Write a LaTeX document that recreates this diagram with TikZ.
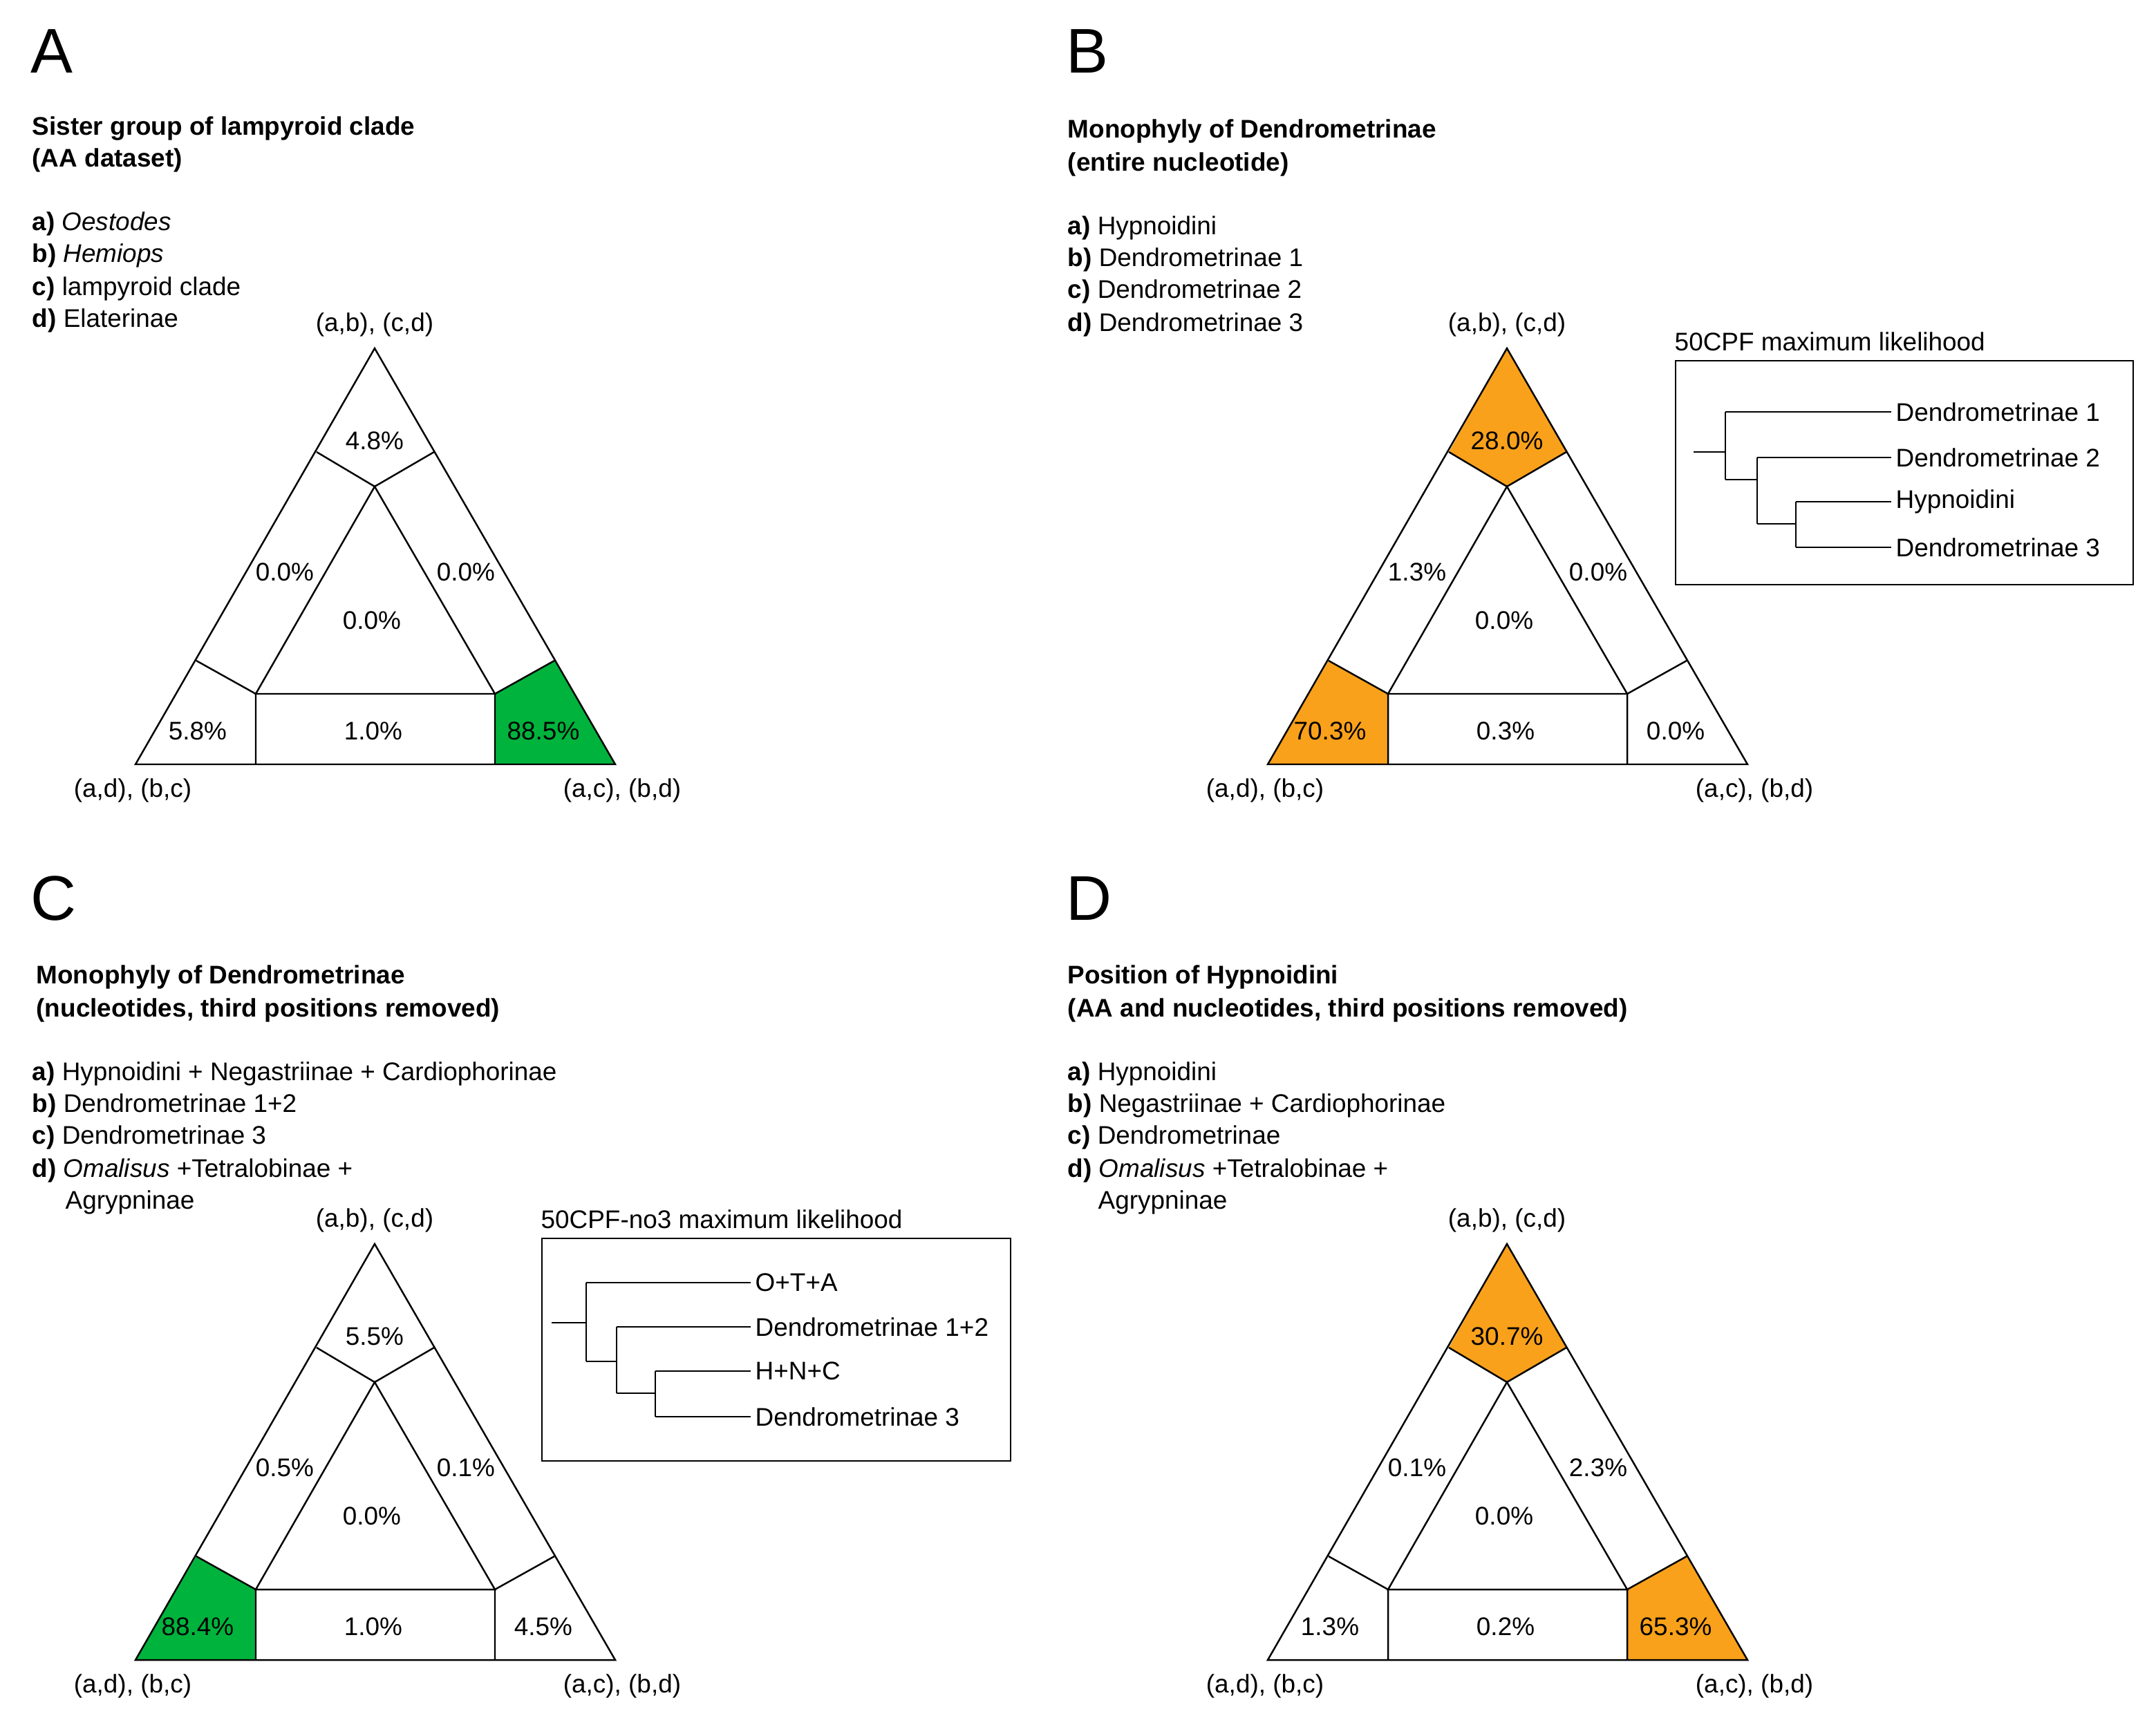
\documentclass[tikz,border=0pt]{standalone}
\usepackage{fontspec}
\setmainfont{Liberation Sans}
\definecolor{grn}{HTML}{00B33C}
\definecolor{org}{HTML}{F9A11B}
\newcommand\tritop[1]{\fill[#1] (271,252)--(229,327)--(271,352)--(314,327)--cycle;}
\newcommand\trileft[1]{\fill[#1] (98,553)--(142,478)--(185,502)--(185,553)--cycle;}
\newcommand\triright[1]{\fill[#1] (445,553)--(401,478)--(358,502)--(358,553)--cycle;}
\newcommand\tripanel[7]{%
  \draw[tri] (271,252)--(98,553)--(445,553)--cycle;
  \draw[tri] (271,352)--(185,502)--(358,502)--cycle;
  \draw[tri] (271,352)--(229,327) (271,352)--(314,327)
    (185,502)--(142,478) (185,502)--(185,553)
    (358,502)--(401,478) (358,502)--(358,553);
  \node[lbl] at (271,319) {#1};
  \node[lbl] at (206,414) {#2};
  \node[lbl] at (337,414) {#3};
  \node[lbl] at (269,449) {#4};
  \node[lbl] at (143,529) {#5};
  \node[lbl] at (270,529) {#6};
  \node[lbl] at (393,529) {#7};
  \node[lbl] at (271,235) {(a,b), (c,d)};
  \node[lbl] at (96,572) {(a,d), (b,c)};
  \node[lbl] at (450,572) {(a,c), (b,d)};
}
\begin{document}
\begin{tikzpicture}[x=0.02cm,y=-0.02cm,
  every node/.style={font=\fontsize{10.5}{12.6}\selectfont},
  tri/.style={line width=0.7pt,line join=miter},
  lbl/.style={inner sep=0pt},
  txt/.style={anchor=west,inner sep=0pt},
  big/.style={anchor=west,inner sep=0pt,font=\fontsize{26}{28}\selectfont},
  tree/.style={line width=0.6pt}]
\useasboundingbox (0,0) rectangle (1559.5,1242.5);
% Panel A
\node[big] (A) at (22,37) {A};
\node[txt] at (23,93) {\textbf{Sister group of lampyroid clade}};
\node[txt] at (23,116) {\textbf{(AA dataset)}};
\node[txt] at (23,162) {\textbf{a)} \textit{Oestodes}};
\node[txt] at (23,185) {\textbf{b)} \textit{Hemiops}};
\node[txt] at (23,209) {\textbf{c)} lampyroid clade};
\node[txt] at (23,232) {\textbf{d)} Elaterinae};
\begin{scope}
\triright{grn}
\tripanel{4.8\%}{0.0\%}{0.0\%}{0.0\%}{5.8\%}{1.0\%}{88.5\%}
\end{scope}
% Panel B
\node[big] (B) at (771,37) {B};
\node[txt] at (772,95) {\textbf{Monophyly of Dendrometrinae}};
\node[txt] at (772,119) {\textbf{(entire nucleotide)}};
\node[txt] at (772,165) {\textbf{a)} Hypnoidini};
\node[txt] at (772,188) {\textbf{b)} Dendrometrinae 1};
\node[txt] at (772,211) {\textbf{c)} Dendrometrinae 2};
\node[txt] at (772,235) {\textbf{d)} Dendrometrinae 3};
\begin{scope}[shift={(819,0)}]
\tritop{org}\trileft{org}
\tripanel{28.0\%}{1.3\%}{0.0\%}{0.0\%}{70.3\%}{0.3\%}{0.0\%}
\end{scope}
\node[txt] at (1211,247) {50CPF maximum likelihood};
\draw[tri] (1212,261) rectangle (1543,423);
\draw[tree] (1225,327)--(1248,327) (1248,298)--(1248,347)
  (1248,298)--(1368,298) (1248,347)--(1271,347)
  (1271,331)--(1271,379) (1271,331)--(1368,331) (1271,379)--(1299,379)
  (1299,363)--(1299,396) (1299,363)--(1368,363) (1299,396)--(1368,396);
\node[txt] at (1371,298) {Dendrometrinae 1};
\node[txt] at (1371,331) {Dendrometrinae 2};
\node[txt] at (1371,363) {Hypnoidini};
\node[txt] at (1371,396) {Dendrometrinae 3};
% Panel C
\node[big] (C) at (22,650) {C};
\node[txt] at (26,707) {\textbf{Monophyly of Dendrometrinae}};
\node[txt] at (26,731) {\textbf{(nucleotides, third positions removed)}};
\node[txt] at (23,777) {\textbf{a)} Hypnoidini + Negastriinae + Cardiophorinae};
\node[txt] at (23,800) {\textbf{b)} Dendrometrinae 1+2};
\node[txt] at (23,823) {\textbf{c)} Dendrometrinae 3};
\node[txt] at (23,847) {\textbf{d)} \textit{Omalisus} +Tetralobinae +};
\node[txt] at (47,870) {Agrypninae};
\begin{scope}[shift={(0,648)}]
\trileft{grn}
\tripanel{5.5\%}{0.5\%}{0.1\%}{0.0\%}{88.4\%}{1.0\%}{4.5\%}
\end{scope}
\node[txt] at (391,882) {50CPF-no3 maximum likelihood};
\draw[tri] (392,896) rectangle (731,1057);
\draw[tree] (399,957)--(424,957) (424,928)--(424,985)
  (424,928)--(543,928) (424,985)--(446,985)
  (446,960)--(446,1008) (446,960)--(543,960) (446,1008)--(474,1008)
  (474,992)--(474,1025) (474,992)--(543,992) (474,1025)--(543,1025);
\node[txt] at (546,928) {O+T+A};
\node[txt] at (546,960) {Dendrometrinae 1+2};
\node[txt] at (546,992) {H+N+C};
\node[txt] at (546,1025) {Dendrometrinae 3};
% Panel D
\node[big] (D) at (771,650) {D};
\node[txt] at (772,707) {\textbf{Position of Hypnoidini}};
\node[txt] at (772,731) {\textbf{(AA and nucleotides, third positions removed)}};
\node[txt] at (772,777) {\textbf{a)} Hypnoidini};
\node[txt] at (772,800) {\textbf{b)} Negastriinae + Cardiophorinae};
\node[txt] at (772,823) {\textbf{c)} Dendrometrinae};
\node[txt] at (772,847) {\textbf{d)} \textit{Omalisus} +Tetralobinae +};
\node[txt] at (794,870) {Agrypninae};
\begin{scope}[shift={(819,648)}]
\tritop{org}\triright{org}
\tripanel{30.7\%}{0.1\%}{2.3\%}{0.0\%}{1.3\%}{0.2\%}{65.3\%}
\end{scope}
\end{tikzpicture}
\end{document}
